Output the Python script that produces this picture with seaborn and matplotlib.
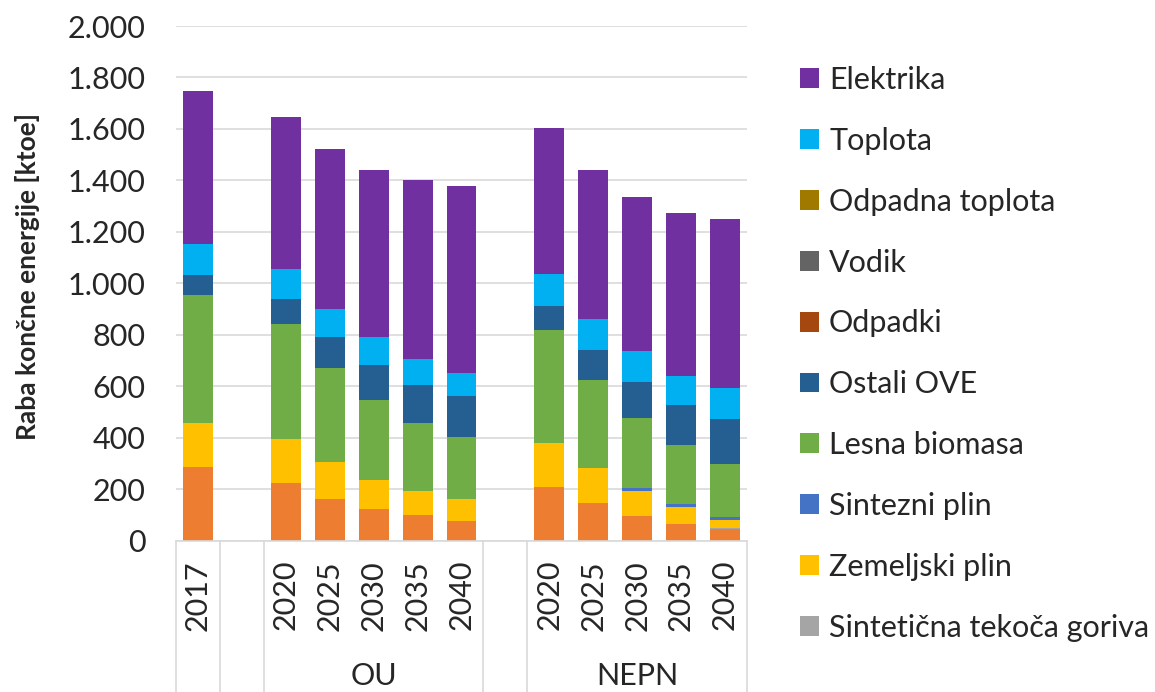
import numpy as np
import pandas as pd
import matplotlib
matplotlib.use("Agg")
import matplotlib.pyplot as plt
import matplotlib.transforms as mtransforms
from matplotlib.patches import Patch
from matplotlib.ticker import FuncFormatter
import seaborn as sns

# Final energy use by source [ktoe]; 2017 baseline plus two scenarios (OU, NEPN)
years = ["2017", "2020", "2025", "2030", "2035", "2040",
         "2020", "2025", "2030", "2035", "2040"]
scenarios = ["", "OU", "OU", "OU", "OU", "OU",
             "NEPN", "NEPN", "NEPN", "NEPN", "NEPN"]

elektrika = [593, 594, 625, 650, 696, 725, 568, 582, 599, 632, 656]
toplota = [123, 117, 106, 108, 100, 92, 124, 118, 119, 112, 120]
odpadna_toplota = [0, 0, 0, 0, 0, 0, 0, 0, 0, 0, 0]
vodik = [0, 0, 0, 0, 0, 0, 0, 0, 0, 0, 0]
odpadki = [0, 0, 0, 0, 0, 0, 0, 0, 0, 0, 0]
ostali_ove = [75, 95, 120, 136, 149, 158, 94, 119, 139, 156, 174]
lesna_biomasa = [501, 449, 368, 313, 263, 242, 437, 343, 273, 230, 206]
sintezni_plin = [0, 0, 0, 0, 0, 0, 0, 0, 13, 13, 12]
zemeljski_plin = [168, 171, 144, 113, 93, 84, 171, 133, 95, 63, 30]
sinteticna_goriva = [0, 0, 0, 0, 0, 0, 0, 0, 0, 0, 7]
tekoca_goriva = [287, 222, 160, 122, 99, 77, 209, 147, 97, 66, 43]

# top-to-bottom stacking order (seaborn stacks the last hue level at the bottom)
series = {
    "Elektrika": (elektrika, "#7030A0"),
    "Toplota": (toplota, "#00B0F0"),
    "Odpadna toplota": (odpadna_toplota, "#A07A00"),
    "Vodik": (vodik, "#646464"),
    "Odpadki": (odpadki, "#A5480F"),
    "Ostali OVE": (ostali_ove, "#255E91"),
    "Lesna biomasa": (lesna_biomasa, "#70AD47"),
    "Sintezni plin": (sintezni_plin, "#4472C4"),
    "Zemeljski plin": (zemeljski_plin, "#FFC000"),
    "Sintetična tekoča goriva": (sinteticna_goriva, "#A5A5A5"),
    "Tekoča goriva": (tekoca_goriva, "#ED7D31"),
}
legend_names = list(series.keys())[:10]

# slot positions: one empty slot between each scenario group
pos = []
slot = -1
prev = None
for sc in scenarios:
    slot += 1
    if prev is not None and sc != prev:
        slot += 1
    pos.append(slot)
    prev = sc
n_slots = pos[-1] + 1

rows = []
for name, (vals, _) in series.items():
    for p, v in zip(pos, vals):
        rows.append({"slot": p, "vir": name, "ktoe": v})
df = pd.DataFrame(rows)
palette = {k: c for k, (_, c) in series.items()}

sns.set_theme(style="white")
plt.rcParams["font.family"] = ["Lato", "DejaVu Sans"]

fig = plt.figure(figsize=(11.55, 6.92), dpi=100)
ax = fig.add_axes([176 / 1155, 1 - 540.5 / 692, 571 / 1155, 514.5 / 692])

sns.histplot(data=df, x="slot", weights="ktoe", hue="vir",
             hue_order=list(series.keys()), palette=palette,
             multiple="stack", discrete=True, shrink=0.68,
             linewidth=0, alpha=1, legend=False, ax=ax)

ax.set_xlim(-0.5, n_slots - 0.5)
ax.set_ylim(0, 2000)
ax.set_yticks(np.arange(0, 2001, 200))
ax.yaxis.set_major_formatter(FuncFormatter(lambda v, _: f"{int(v):,}".replace(",", ".")))
ax.yaxis.grid(True, color="#D9D9D9", linewidth=1.2)
ax.set_axisbelow(True)
for s in ("left", "right", "top"):
    ax.spines[s].set_visible(False)
ax.spines["bottom"].set_color("#D9D9D9")
ax.spines["bottom"].set_linewidth(1.2)
ax.set_xlabel("")
ax.set_ylabel("")

text_color = "#262626"
ax.tick_params(axis="y", length=0, pad=22, labelsize=22, labelcolor=text_color)
ax.set_xticks(pos)
ax.set_xticklabels(years, rotation=90, fontsize=22, color=text_color)
ax.tick_params(axis="x", length=0, pad=14)

# multi-level category axis: group separators and scenario names
trans = mtransforms.blended_transform_factory(ax.transData, ax.transAxes)
depth = -(692 - 540.5) / 514.5
bounds = [-0.5]
for i in range(1, len(pos)):
    if scenarios[i] != scenarios[i - 1]:
        bounds += [pos[i - 1] + 0.5, pos[i] - 0.5]
bounds.append(n_slots - 0.5)
for b in bounds:
    ax.plot([b, b], [0, depth], transform=trans, color="#D9D9D9",
            linewidth=1.2, clip_on=False)
for sc in dict.fromkeys(scenarios):
    if not sc:
        continue
    ps = [p for p, s in zip(pos, scenarios) if s == sc]
    ax.text(np.mean(ps), -(676 - 540.5) / 514.5, sc, transform=trans,
            ha="center", va="center", fontsize=22, color=text_color)

fig.text(28 / 1155, 1 - 277 / 692, "Raba končne energije [ktoe]",
         rotation=90, ha="center", va="center", fontsize=19,
         fontweight="bold", color=text_color)

handles = [Patch(facecolor=series[n][1], edgecolor="none", label=n)
           for n in legend_names]
fig.legend(handles=handles, loc="upper left",
           bbox_to_anchor=(800 / 1155, 1 - 66 / 692),
           frameon=False, fontsize=22, borderpad=0, borderaxespad=0,
           handlelength=0.62, handleheight=0.62, handletextpad=0.33,
           labelspacing=1.075, labelcolor=text_color)

fig.savefig("out.png", dpi=100)
